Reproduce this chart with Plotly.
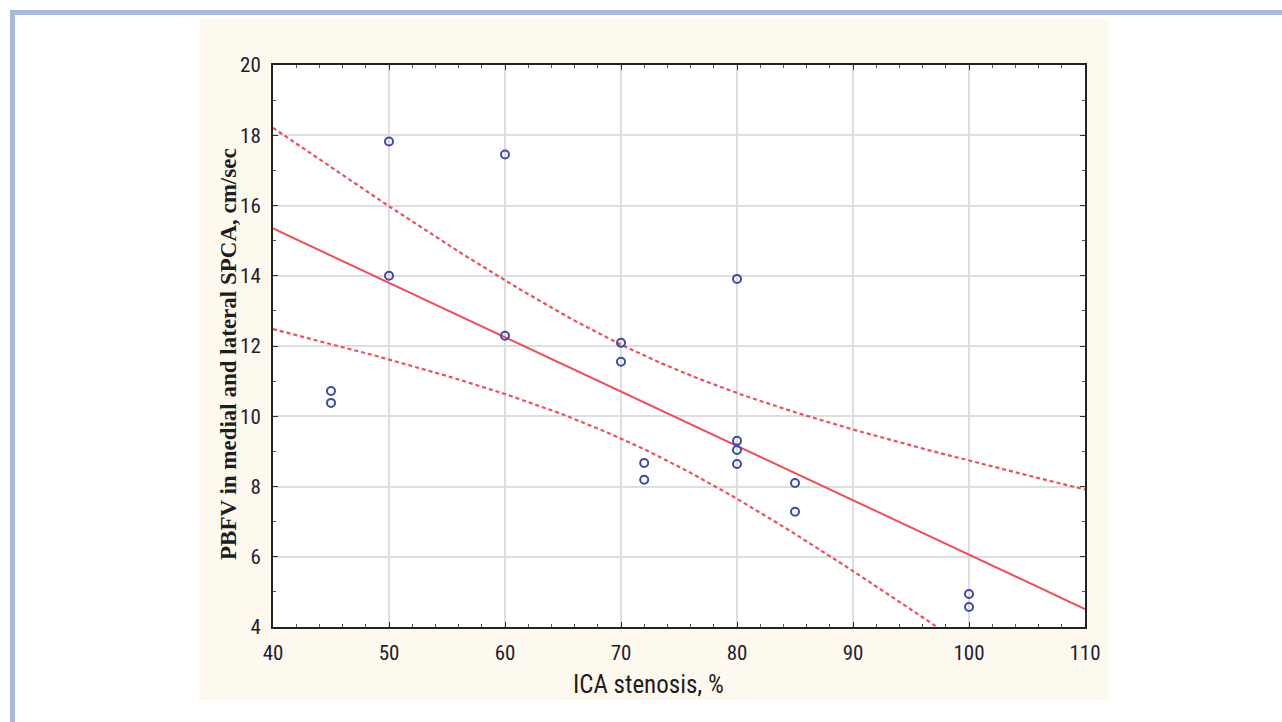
import numpy as np
import plotly.graph_objects as go

# Data
stenosis = [45, 45, 50, 50, 60, 60, 70, 70, 72, 72, 80, 80, 80, 80, 85, 85, 100, 100]
pbfv = [10.72, 10.38, 17.82, 14.0, 17.45, 12.29, 12.09, 11.55, 8.67, 8.19,
        13.91, 9.3, 9.04, 8.64, 8.1, 7.28, 4.94, 4.57]

x_ticks = [40, 50, 60, 70, 80, 90, 100, 110]
y_ticks = [4, 6, 8, 10, 12, 14, 16, 18, 20]
x_title = "ICA stenosis, %"
y_title = "PBFV in medial and lateral SPCA, cm/sec"

# Linear regression with 95% confidence band
x = np.array(stenosis, dtype=float)
y = np.array(pbfv, dtype=float)
n = len(x)
slope, intercept = np.polyfit(x, y, 1)
resid = y - (intercept + slope * x)
s = np.sqrt(np.sum(resid ** 2) / (n - 2))
t_crit = 2.1199  # t(0.975, df=16)
xf = np.linspace(40, 110, 141)
yf = intercept + slope * xf
se = s * np.sqrt(1 / n + (xf - x.mean()) ** 2 / np.sum((x - x.mean()) ** 2))
upper = yf + t_crit * se
lower = yf - t_crit * se

red = "#ef4f5b"
blue = "#3d4aa6"
narrow = "Liberation Sans Narrow, Arial Narrow, Roboto Condensed, Liberation Sans, Arial, sans-serif"

# plot area in pixels
L, R, T, B = 273, 1085, 65, 627
W, H = 1282, 722
PW, PH = R - L, B - T


def px(xp):
    return (xp - L) / PW


def py(yp):
    return (B - yp) / PH


fig = go.Figure()
fig.add_trace(go.Scatter(x=xf, y=upper, mode="lines",
                         line=dict(color=red, width=2.2, dash="4px,3px"), hoverinfo="skip"))
fig.add_trace(go.Scatter(x=xf, y=lower, mode="lines",
                         line=dict(color=red, width=2.2, dash="4px,3px"), hoverinfo="skip"))
fig.add_trace(go.Scatter(x=xf, y=yf, mode="lines",
                         line=dict(color=red, width=2), hoverinfo="skip"))
fig.add_trace(go.Scatter(x=stenosis, y=pbfv, mode="markers",
                         marker=dict(symbol="circle-open", size=8, color=blue,
                                     line=dict(width=2, color=blue))))

axis_common = dict(
    showline=True, linecolor="#222222", linewidth=2, mirror="ticks",
    showgrid=True, gridcolor="#dedede", gridwidth=1.5,
    ticks="inside", ticklen=5, tickwidth=1, tickcolor="#333333",
    tickfont=dict(family=narrow, size=21, color="#1e2030"),
    zeroline=False,
)

fig.update_xaxes(range=[40, 110], tickvals=x_ticks, ticklabelstandoff=6,
                 minor=dict(dtick=2, ticks="inside", ticklen=3, tickcolor="#555555", showgrid=False),
                 **axis_common)
fig.update_yaxes(range=[4, 20], tickvals=y_ticks, ticklabelstandoff=6,
                 minor=dict(dtick=1, ticks="inside", ticklen=3, tickcolor="#555555", showgrid=False),
                 **axis_common)

fig.update_layout(
    width=W, height=H,
    margin=dict(l=L, r=W - R, t=T, b=H - B),
    paper_bgcolor="white", plot_bgcolor="white",
    showlegend=False,
    shapes=[
        dict(type="rect", xref="paper", yref="paper", layer="below",
             x0=px(200), x1=px(1108), y0=py(700), y1=py(19),
             fillcolor="#fef9ef", line=dict(width=0)),
        dict(type="rect", xref="paper", yref="paper", layer="below",
             x0=0, x1=1, y0=0, y1=1,
             fillcolor="white", line=dict(width=0)),
        dict(type="line", xref="paper", yref="paper",
             x0=px(10), x1=px(1282), y0=py(12.5), y1=py(12.5),
             line=dict(color="#a6b8dc", width=5)),
        dict(type="line", xref="paper", yref="paper",
             x0=px(12.5), x1=px(12.5), y0=py(722), y1=py(10),
             line=dict(color="#a6b8dc", width=5)),
    ],
    annotations=[
        dict(text=x_title, xref="paper", yref="paper", x=px(648), y=py(684),
             xanchor="center", yanchor="middle", showarrow=False,
             font=dict(family=narrow, size=25, color="#1e1e1e")),
        dict(text="<b>" + y_title + "</b>", xref="paper", yref="paper", x=px(228), y=py(354),
             xanchor="center", yanchor="middle", showarrow=False, textangle=-90,
             font=dict(family="Liberation Serif, Times New Roman, serif", size=23, color="#1e1e1e")),
    ],
)

fig.write_html("out.html", config={"displayModeBar": False},
               post_script="document.body.style.margin='0px';")
